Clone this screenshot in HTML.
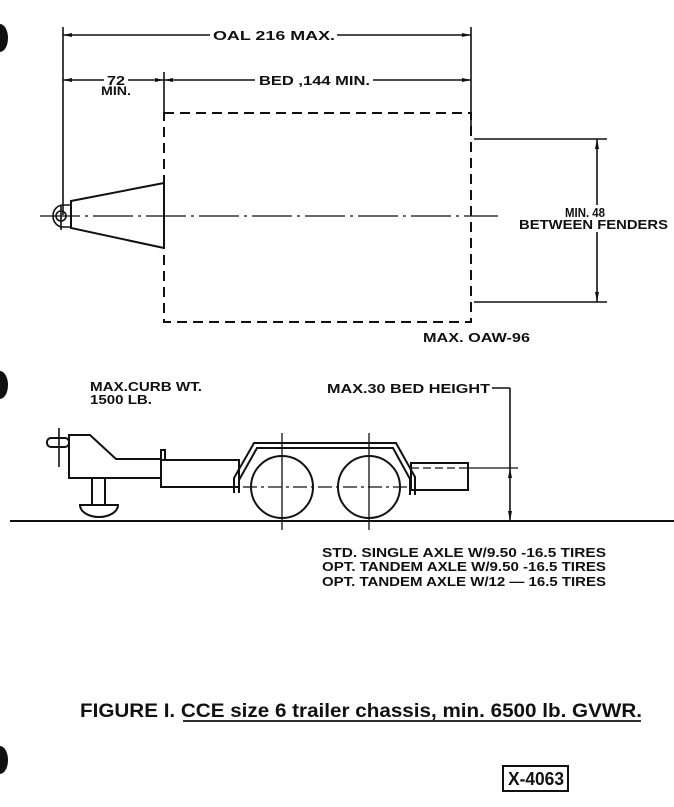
<!DOCTYPE html>
<html><head><meta charset="utf-8"><style>
html,body{margin:0;padding:0;background:#fff}
svg{display:block}
text{font-family:"Liberation Sans",sans-serif;font-weight:bold;fill:#111}
</style></head><body>
<svg width="674" height="807" viewBox="0 0 674 807" xmlns="http://www.w3.org/2000/svg">
<rect width="674" height="807" fill="#fff"/>
<g fill="#111">
<ellipse cx="0" cy="38" rx="8" ry="14"/>
<ellipse cx="0" cy="385" rx="8" ry="14"/>
<ellipse cx="0" cy="760" rx="8" ry="14"/>
</g>
<g stroke="#111" stroke-width="1.6" fill="none">
<line x1="63" y1="27" x2="63" y2="215"/>
<line x1="471" y1="27" x2="471" y2="130"/>
<line x1="63" y1="35" x2="210" y2="35"/>
<line x1="337" y1="35" x2="471" y2="35"/>
<line x1="63" y1="80" x2="104" y2="80"/>
<line x1="128" y1="80" x2="164" y2="80"/>
<line x1="164" y1="80" x2="255" y2="80"/>
<line x1="373" y1="80" x2="471" y2="80"/>
<line x1="164" y1="72" x2="164" y2="113"/>
</g>
<g fill="#111">
<polygon points="63,35 72,33 72,37"/><polygon points="471,35 462,33 462,37"/>
<polygon points="63,80 72,78 72,82"/><polygon points="164,80 155,78 155,82"/>
<polygon points="164,80 173,78 173,82"/><polygon points="471,80 462,78 462,82"/>
</g>
<text x="213" y="40" font-size="13" textLength="122" lengthAdjust="spacingAndGlyphs">OAL 216 MAX.</text>
<text x="107" y="85" font-size="13" textLength="18" lengthAdjust="spacingAndGlyphs">72</text>
<text x="101" y="95" font-size="12" textLength="30" lengthAdjust="spacingAndGlyphs">MIN.</text>
<text x="259" y="85" font-size="13" textLength="111" lengthAdjust="spacingAndGlyphs">BED ,144 MIN.</text>
<rect x="164" y="113" width="307" height="209" fill="none" stroke="#111" stroke-width="2" stroke-dasharray="10,6"/>
<g stroke="#111" stroke-width="1.6" fill="none">
<line x1="40" y1="216" x2="498" y2="216" stroke-dasharray="40,5,3,5" stroke-width="1.2"/>
<polygon points="71,201 164,183 164,248 71,228" stroke-width="2"/>
<path d="M71,205 L63,205 A10,11 0 0,0 63,227 L71,227 Z"/>
<circle cx="61" cy="216" r="5"/>
<line x1="61" y1="205" x2="61" y2="230"/>
<line x1="474" y1="139" x2="607" y2="139"/>
<line x1="474" y1="302" x2="607" y2="302"/>
<line x1="597" y1="139" x2="597" y2="205"/>
<line x1="597" y1="232" x2="597" y2="302"/>
</g>
<g fill="#111"><polygon points="597,139 595,149 599,149"/><polygon points="597,302 595,292 599,292"/></g>
<text x="565" y="217" font-size="13" textLength="40" lengthAdjust="spacingAndGlyphs">MIN. 48</text>
<text x="519" y="229" font-size="13" textLength="149" lengthAdjust="spacingAndGlyphs">BETWEEN FENDERS</text>
<text x="423" y="342" font-size="13" textLength="107" lengthAdjust="spacingAndGlyphs">MAX. OAW-96</text>
<text x="90" y="391" font-size="13" textLength="112" lengthAdjust="spacingAndGlyphs">MAX.CURB WT.</text>
<text x="90" y="404" font-size="13" textLength="62" lengthAdjust="spacingAndGlyphs">1500 LB.</text>
<text x="327" y="393" font-size="13" textLength="163" lengthAdjust="spacingAndGlyphs">MAX.30 BED HEIGHT</text>
<g stroke="#111" stroke-width="2" fill="none">
<line x1="10" y1="521" x2="674" y2="521"/>
<line x1="492" y1="388" x2="510" y2="388" stroke-width="1.6"/>
<line x1="510" y1="388" x2="510" y2="521" stroke-width="1.6"/>
<line x1="59" y1="428" x2="59" y2="467" stroke-width="1.6"/>
<rect x="47" y="438" width="22" height="9" rx="4"/>
<path d="M69,435 L90,435 L116,459 L161,459 L161,478 L69,478 Z"/>
<rect x="161" y="450" width="4" height="10"/>
<rect x="161" y="460" width="78" height="27"/>
<path d="M92,478 L92,505 M105,478 L105,505"/>
<path d="M80,505 L118,505 A19,12 0 0,1 80,505 Z"/>
<path d="M234,493 L234,478 L254,443 L396,443 L415,477 L415,495"/>
<path d="M239,493 L239,480 L257,448 L393,448 L410,479 L410,495"/>
<rect x="411" y="463" width="57" height="27"/>
<ellipse cx="282" cy="487" rx="31" ry="31"/>
<ellipse cx="369" cy="487" rx="31" ry="31"/>
</g>
<g stroke="#111" stroke-width="1.3" fill="none">
<line x1="282" y1="433" x2="282" y2="530"/>
<line x1="369" y1="433" x2="369" y2="530"/>
<line x1="243" y1="487" x2="409" y2="487" stroke-dasharray="14,4,3,4"/>
<line x1="411" y1="468" x2="468" y2="468" stroke-dasharray="8,4"/>
<line x1="468" y1="468" x2="518" y2="468"/>
</g>
<g fill="#111"><polygon points="510,468 508,478 512,478"/><polygon points="510,521 508,511 512,511"/></g>
<text x="322" y="557" font-size="13" textLength="284" lengthAdjust="spacingAndGlyphs">STD. SINGLE AXLE  W/9.50 -16.5 TIRES</text>
<text x="322" y="571" font-size="13" textLength="284" lengthAdjust="spacingAndGlyphs">OPT. TANDEM AXLE W/9.50 -16.5 TIRES</text>
<text x="322" y="586" font-size="13" textLength="284" lengthAdjust="spacingAndGlyphs">OPT. TANDEM AXLE W/12 — 16.5 TIRES</text>
<text x="80" y="717" font-size="19" textLength="562" lengthAdjust="spacingAndGlyphs">FIGURE  I. CCE size 6 trailer chassis, min. 6500 lb. GVWR.</text>
<line x1="183" y1="721" x2="641" y2="721" stroke="#111" stroke-width="1.8"/>
<rect x="503" y="766" width="65" height="25" fill="none" stroke="#111" stroke-width="2"/>
<text x="508" y="785" font-size="18" font-weight="normal" textLength="56" lengthAdjust="spacingAndGlyphs">X-4063</text>
</svg>
</body></html>
